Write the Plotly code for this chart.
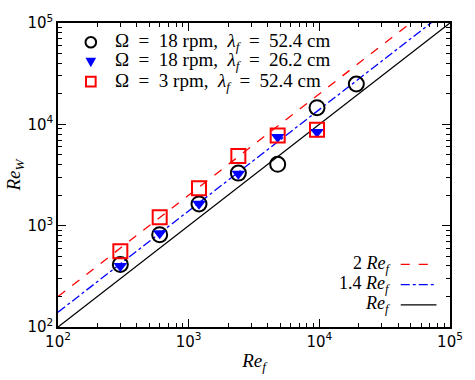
import plotly.graph_objects as go

# Data
ref_circ = [300, 600, 1200, 2400, 4800, 9600, 19200]
rew_circ = [414, 815, 1640, 3300, 4030, 14600, 25000]
ref_tri = [300, 600, 1200, 2400, 4800, 9600]
rew_tri = [400, 840, 1650, 3250, 7500, 8400]
ref_sq = [300, 600, 1200, 2400, 4800, 9600]
rew_sq = [560, 1210, 2340, 4880, 7770, 8850]
line_x = [100, 100000]
factors = [2.0, 1.4, 1.0]
line_colors = ["red", "blue", "black"]
line_dash = ["dash", "dashdot", "solid"]
line_labels = ["2 <i>Re</i><sub><i>f</i></sub>", "1.4 <i>Re</i><sub><i>f</i></sub>", "<i>Re</i><sub><i>f</i></sub>"]
EQ = "\u2002=\u2002"
legend_labels = ["Ω" + EQ + "18 rpm,\u2002<i>λ</i><sub><i>f</i></sub>" + EQ + "52.4 cm",
                 "Ω" + EQ + "18 rpm,\u2002<i>λ</i><sub><i>f</i></sub>" + EQ + "26.2 cm",
                 "Ω" + EQ + "3 rpm,\u2002<i>λ</i><sub><i>f</i></sub>" + EQ + "52.4 cm"]
major_ticks = [1e2, 1e3, 1e4, 1e5]
major_text = ["10<sup>2</sup>", "10<sup>3</sup>", "10<sup>4</sup>", "10<sup>5</sup>"]
minor_ticks = [k * 10**n for n in range(2, 5) for k in range(2, 10)]

# plot-area geometry (pixels)
L, R, T, B = 54, 460, 15, 331
W, H = R - L, B - T


def px(x):
    return (x - L) / W


def py(y):
    return (B - y) / H


fig = go.Figure()
for f, c, d in zip(factors, line_colors, line_dash):
    fig.add_trace(go.Scatter(x=line_x, y=[f * v for v in line_x], mode="lines",
                             line=dict(color=c, dash=d, width=1.3), showlegend=False))

fig.add_trace(go.Scatter(x=ref_circ, y=rew_circ, mode="markers", name=legend_labels[0], showlegend=False,
                         marker=dict(symbol="circle-open", size=15, color="black", line=dict(width=2))))
fig.add_trace(go.Scatter(x=ref_tri, y=rew_tri, mode="markers", name=legend_labels[1], showlegend=False,
                         marker=dict(symbol="triangle-down", size=12, color="blue", line=dict(width=0))))
fig.add_trace(go.Scatter(x=ref_sq, y=rew_sq, mode="markers", name=legend_labels[2], showlegend=False,
                         marker=dict(symbol="square-open", size=14, color="red", line=dict(width=2))))

axis_common = dict(type="log", range=[2, 5], showgrid=False, zeroline=False,
                   showline=True, linecolor="black", linewidth=1.5, mirror="ticks",
                   ticks="inside", ticklen=8, tickcolor="black", tickwidth=1,
                   tickmode="array", tickvals=major_ticks, ticktext=major_text,
                   tickfont=dict(family="DejaVu Sans", size=15, color="black"),
                   minor=dict(tickmode="array", tickvals=minor_ticks, ticks="inside",
                              ticklen=4, tickcolor="black"))

fig.update_xaxes(**axis_common,
                 title=dict(text="<i>Re</i><sub><i>f</i></sub>", standoff=4,
                            font=dict(family="Liberation Serif", size=19, color="black")))
fig.update_yaxes(**axis_common,
                 title=dict(text="<i>Re</i><sub><i>W</i></sub>", standoff=2,
                            font=dict(family="Liberation Serif", size=19, color="black")))

# Top-left legend: sample symbols + labels
rows = [35, 55, 76]
cx = 88
fig.add_shape(type="circle", xref="paper", yref="paper",
              x0=px(cx - 5.5), x1=px(cx + 5.5), y0=py(rows[0] + 5.5), y1=py(rows[0] - 5.5),
              line=dict(color="black", width=2), fillcolor="rgba(0,0,0,0)")
ty = rows[1]
tri_path = "M {} {} L {} {} L {} {} Z".format(px(cx - 5.5), py(ty - 4), px(cx + 5.5), py(ty - 4), px(cx), py(ty + 6))
fig.add_shape(type="path", xref="paper", yref="paper", path=tri_path,
              line=dict(color="blue", width=0), fillcolor="blue")
fig.add_shape(type="rect", xref="paper", yref="paper",
              x0=px(cx - 5), x1=px(cx + 5), y0=py(rows[2] + 5), y1=py(rows[2] - 5),
              line=dict(color="red", width=2), fillcolor="rgba(0,0,0,0)")
for lab, ry in zip(legend_labels, rows):
    fig.add_annotation(x=px(111), y=py(ry), xref="paper", yref="paper", text=lab,
                       showarrow=False, xanchor="left", yanchor="middle",
                       font=dict(family="Liberation Serif", size=19, color="black"))

# Bottom-right legend: text + short line samples
rows_y = [266, 287, 308]
for lab, c, d, ry in zip(line_labels, line_colors, line_dash, rows_y):
    fig.add_annotation(x=px(400), y=py(ry), xref="paper", yref="paper", text=lab,
                       showarrow=False, xanchor="right", yanchor="middle",
                       font=dict(family="Liberation Serif", size=18, color="black"))
    fig.add_shape(type="line", xref="paper", yref="paper", x0=px(409), x1=px(446),
                  y0=py(ry), y1=py(ry), line=dict(color=c, dash=d, width=1.3))

fig.update_layout(width=475, height=380, margin=dict(l=L, r=475 - R, t=T, b=380 - B),
                  plot_bgcolor="white", paper_bgcolor="white", showlegend=False)

fig.write_html("out.html")
